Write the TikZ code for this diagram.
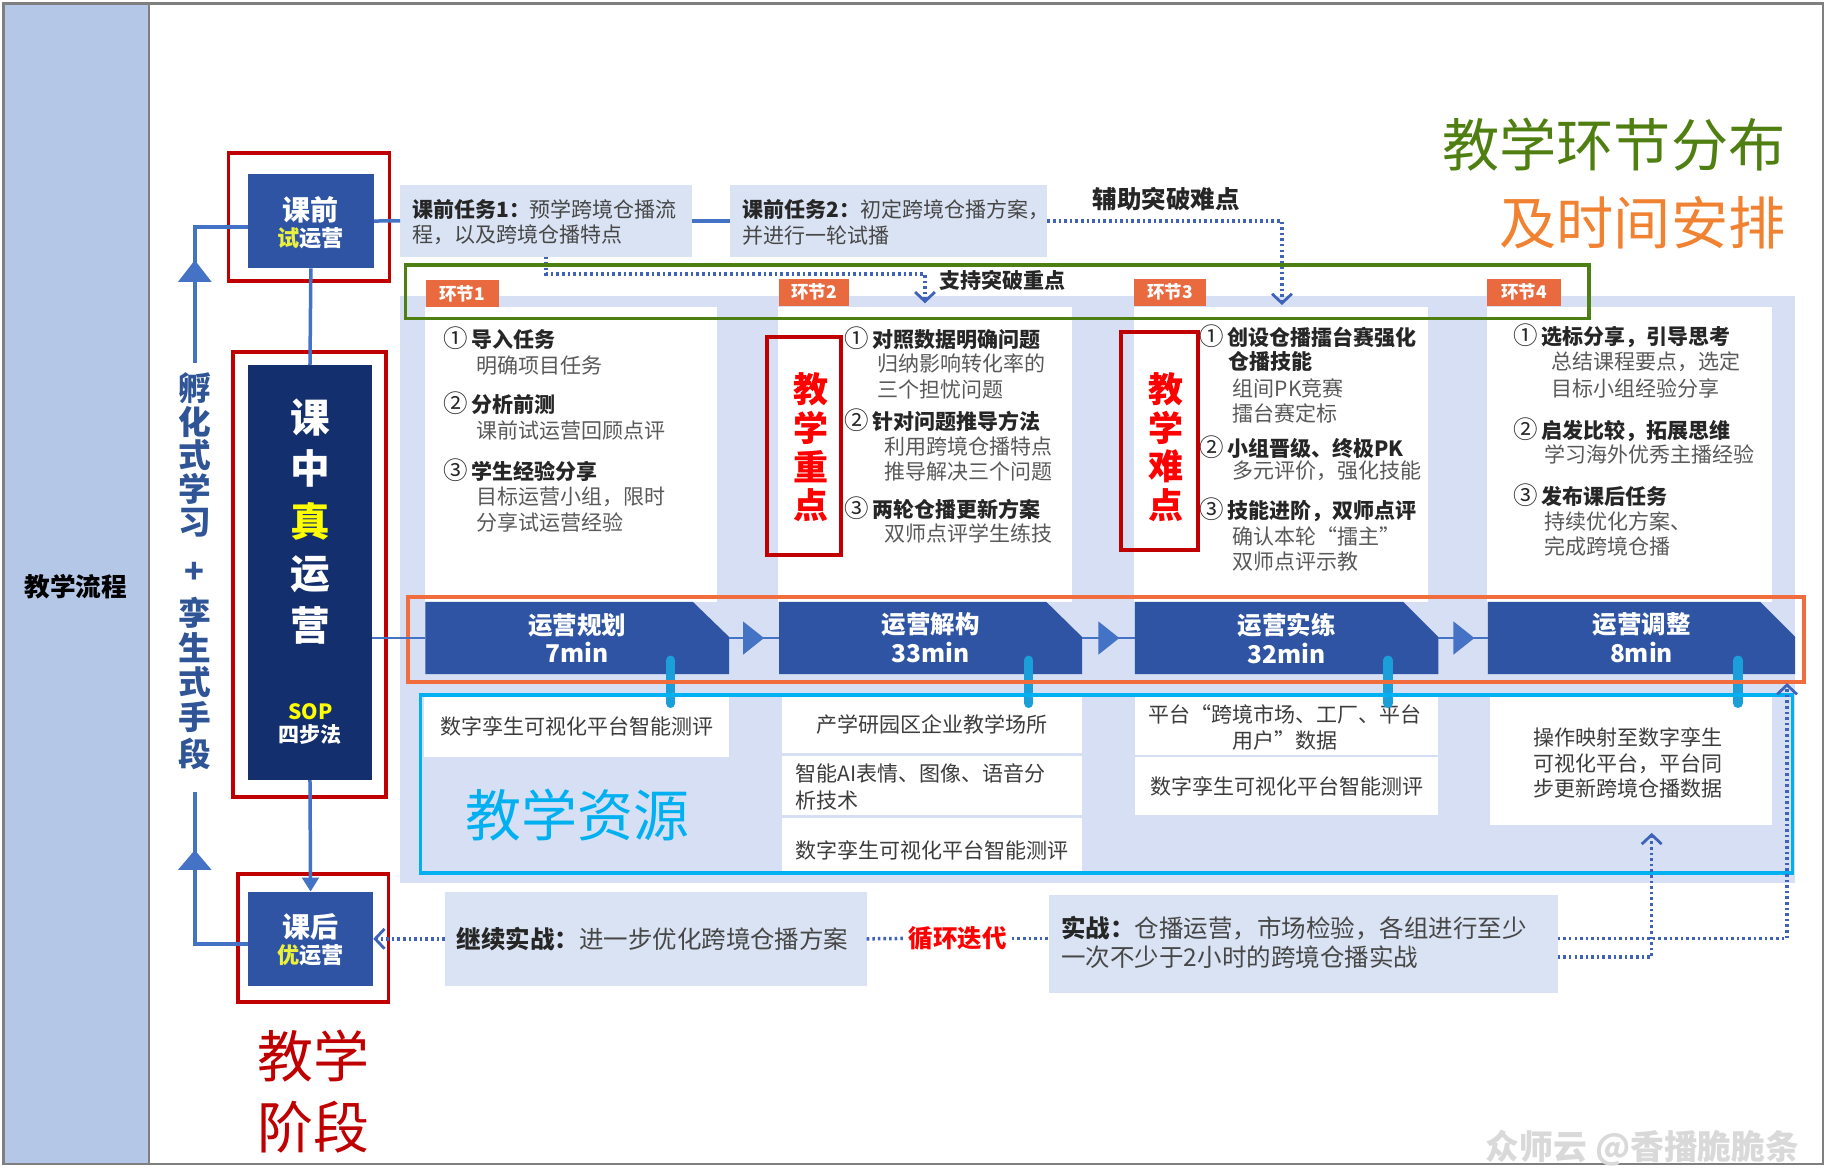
\documentclass[tikz,border=0pt]{standalone}
\usepackage{fontspec}
\setmainfont{Noto Sans CJK SC}
\usetikzlibrary{arrows.meta,calc,fit}
\definecolor{barblue}{HTML}{B4C7E7}
\definecolor{boxblue}{HTML}{2E54A3}
\definecolor{navy}{HTML}{142F6E}
\definecolor{lineblue}{HTML}{4472C4}
\definecolor{dotblue}{HTML}{3E63B8}
\definecolor{lav}{HTML}{DAE3F3}
\definecolor{panel}{HTML}{D6DFF3}
\definecolor{tagor}{HTML}{EA6A40}
\definecolor{frgreen}{HTML}{4E7F12}
\definecolor{frorange}{HTML}{F26D3D}
\definecolor{cyanc}{HTML}{00B0F0}
\definecolor{pinc}{HTML}{1A9FDB}
\definecolor{dred}{HTML}{C00000}
\definecolor{bright}{HTML}{FF0000}
\definecolor{txtgray}{HTML}{595959}
\definecolor{txtdark}{HTML}{262626}
\definecolor{ttlgreen}{HTML}{4F7F10}
\definecolor{ttlorange}{HTML}{F08232}
\definecolor{yel}{HTML}{FFFF00}
\definecolor{limey}{HTML}{EAF03C}
\definecolor{vblue}{HTML}{2F5597}
\definecolor{framegray}{HTML}{7F7F7F}
\newcommand\circnum[1]{{\mdseries\fontsize{10.5}{11}\selectfont #1}\hspace{1.5pt}}
\begin{document}
\begin{tikzpicture}[x=0.5pt,y=-0.5pt,
  rect/.style={inner sep=0pt,outer sep=0pt},
  head/.style={anchor=west,inner sep=0pt,font=\fontsize{9}{11}\selectfont\bfseries,text=txtdark},
  sub/.style={anchor=west,inner sep=0pt,font=\fontsize{9}{11}\selectfont,text=txtgray},
  restxt/.style={inner sep=0pt,font=\fontsize{9}{10.8}\selectfont,text=txtdark!90,align=center},
  tagbox/.style={rect,fill=tagor,text=white,font=\fontsize{7.5}{9}\selectfont\bfseries},
  steptxt/.style={inner sep=0pt,text=white,font=\fontsize{10.5}{12.4}\selectfont\bfseries,align=center},
  flow/.style={draw=lineblue,line width=1.2pt},
  conn/.style={draw=lineblue,line width=1.5pt},
  dotline/.style={draw=dotblue,line width=1.5pt,dash pattern=on 1.1pt off 1.3pt},
  barb/.style={-{Straight Barb[length=4pt,width=8.5pt,line width=1.2pt]}},
  pin/.style={draw=pinc,line width=4pt,line cap=round},
  redframe/.style={rect,draw=dred,line width=1.6pt},
  vchar/.style={inner sep=0pt,text=vblue,font=\fontsize{14}{16}\selectfont\bfseries},
  bigchar/.style={inner sep=0pt,text=white,font=\fontsize{17}{20}\selectfont\bfseries},
  keychar/.style={inner sep=0pt,text=bright,font=\fontsize{15}{17}\selectfont\bfseries},
  stepfill/.style={fill=boxblue},
]
\useasboundingbox (0,0) rectangle (1568,1006);

% ---------- outer frame and left bar ----------
\fill[barblue] (3,3) rectangle (128,998);
\draw[framegray,line width=1pt] (3,3) rectangle (1563,998);
\draw[framegray,line width=1pt] (128,3) -- (128,998);
\node[inner sep=0pt,font=\fontsize{11}{13}\selectfont\bfseries,text=black] (liucheng) at (65,503) {教学流程};

% ---------- background panel and columns ----------
\node[rect,fill=panel,fit={(343,254)(1539,757)}] (panel) {};
\node[rect,fill=white,fit={(364,263)(615,516)}] (col1) {};
\node[rect,fill=white,fit={(667,263)(919,516)}] (col2) {};
\node[rect,fill=white,fit={(972,263)(1224,516)}] (col3) {};
\node[rect,fill=white,fit={(1275,263)(1519,516)}] (col4) {};

\node[tagbox,fit={(364.8,240)(427.5,263)}] (tag1) {};
\node[tagbox] (tag1t) at (tag1.center) {环节1};
\node[tagbox,fit={(668,239)(728,262)}] (tag2) {};
\node[tagbox] (tag2t) at (tag2.center) {环节2};
\node[tagbox,fit={(972,239)(1034,262)}] (tag3) {};
\node[tagbox] (tag3t) at (tag3.center) {环节3};
\node[tagbox,fit={(1275,239)(1338,262)}] (tag4) {};
\node[tagbox] (tag4t) at (tag4.center) {环节4};

% ---------- pre-class tasks ----------
\node[rect,fill=lav,fit={(343,158.6)(593,220)}] (task1) {};
\node[anchor=west,inner sep=0pt,align=left,font=\fontsize{9}{11}\selectfont,text=txtdark!85] (task1t) at (353,190.5)
  {{\bfseries\color{txtdark}课前任务1：}预学跨境仓播流\\程，以及跨境仓播特点};
\node[rect,fill=lav,fit={(626,158.6)(898,220)}] (task2) {};
\node[anchor=west,inner sep=0pt,align=left,font=\fontsize{9}{11}\selectfont,text=txtdark!85] (task2t) at (636.5,190.5)
  {{\bfseries\color{txtdark}课前任务2：}初定跨境仓播方案，\\并进行一轮试播};

\coordinate (zdk) at (793,235);
\coordinate (zd) at (793,260);
\coordinate (nd) at (1099,261.5);
\draw[dotline,barb] (task1.south) |- (zdk) -- (zd);
\draw[dotline,barb] (task2.east) -| (nd);
\node[anchor=west,inner sep=0pt,font=\fontsize{9}{11}\selectfont\bfseries,text=txtdark] (zhichi) at (805,240) {支持突破重点};
\node[inner sep=0pt,font=\fontsize{10.5}{12}\selectfont\bfseries,text=txtdark] (fuzhu) at (1000,171) {辅助突破难点};

% ---------- green frame ----------
\node[rect,draw=frgreen,line width=1.6pt,fit={(347.6,227)(1362,273)}] (greenframe) {};

% ---------- column texts ----------
\foreach \s/\x/\y/\t [count=\i] in {
  head/380/290/{\circnum{①}导入任务},
  sub/408/313/{明确项目任务},
  head/380/346/{\circnum{②}分析前测},
  sub/408/369/{课前试运营回顾点评},
  head/380/403/{\circnum{③}学生经验分享},
  sub/408/426/{目标运营小组，限时},
  sub/408/447.5/{分享试运营经验}}
  \node[\s] (ca-\i) at (\x,\y) {\t};

\foreach \s/\x/\y/\t [count=\i] in {
  head/724/290/{\circnum{①}对照数据明确问题},
  sub/752/311.5/{归纳影响转化率的},
  sub/752/334/{三个担忧问题},
  head/724/360/{\circnum{②}针对问题推导方法},
  sub/758/383/{利用跨境仓播特点},
  sub/758/404/{推导解决三个问题},
  head/724/435.7/{\circnum{③}两轮仓播更新方案},
  sub/758/457/{双师点评学生练技}}
  \node[\s] (cb-\i) at (\x,\y) {\t};

\foreach \s/\x/\y/\t [count=\i] in {
  head/1028/288.6/{\circnum{①}创设仓播擂台赛强化},
  head/1052.6/310/{仓播技能},
  sub/1056.6/332.7/{组间PK竞赛},
  sub/1056.6/354.3/{擂台赛定标},
  head/1028/383/{\circnum{②}小组晋级、终极PK},
  sub/1056.6/404/{多元评价，强化技能},
  head/1028/437/{\circnum{③}技能进阶，双师点评},
  sub/1056.6/460/{确认本轮“擂主”},
  sub/1056.6/481.5/{双师点评示教}}
  \node[\s] (cc-\i) at (\x,\y) {\t};

\foreach \s/\x/\y/\t [count=\i] in {
  head/1297/288/{\circnum{①}选标分享，引导思考},
  sub/1329.6/310/{总结课程要点，选定},
  sub/1329.6/332.7/{目标小组经验分享},
  head/1297/368.6/{\circnum{②}启发比较，拓展思维},
  sub/1323.6/390/{学习海外优秀主播经验},
  head/1297/424.4/{\circnum{③}发布课后任务},
  sub/1323.6/447/{持续优化方案、},
  sub/1323.6/468.6/{完成跨境仓播}}
  \node[\s] (cd-\i) at (\x,\y) {\t};

% ---------- key / difficult points ----------
\node[redframe,fit={(657.5,289)(721,476)}] (zhongdian) {};
\foreach \c/\y [count=\i] in {教/334,学/367,重/400,点/433}
  \node[keychar] (zd-\i) at (695,\y) {\c};
\node[redframe,fit={(961,284.5)(1027,471.5)}] (nandian) {};
\foreach \c/\y [count=\i] in {教/334,学/367,难/400,点/433}
  \node[keychar] (nd-\i) at (1000,\y) {\c};

% ---------- SOP steps ----------
\fill[stepfill] (364.7,516) -- (594,516) -- (625,546) -- (625,578) -- (364.7,578) -- cycle;
\node[rect,fit={(364.7,516)(625,578)}] (s1) {};
\node[steptxt] (s1t) at (s1.center) {运营规划\\7min};
\fill[stepfill] (668,516) -- (897,516) -- (927.6,546) -- (927.6,578) -- (668,578) -- cycle;
\node[rect,fit={(668,516)(927.6,578)}] (s2) {};
\node[steptxt] (s2t) at (s2.center) {运营解构\\33min};
\fill[stepfill] (973,516) -- (1203,516) -- (1233,546) -- (1233,578) -- (973,578) -- cycle;
\node[rect,fit={(973,516)(1233,578)}] (s3) {};
\node[steptxt] (s3t) at (s3.center) {运营实练\\32min};
\fill[stepfill] (1275.6,516) -- (1509,516) -- (1539,546) -- (1539,578) -- (1275.6,578) -- cycle;
\node[rect,fit={(1275.6,516)(1539,578)}] (s4) {};
\node[steptxt] (s4t) at (s4.center) {运营调整\\8min};

\draw[flow] (s1.east) -- (s2.west);
\draw[flow,-{Triangle[length=9pt,width=14pt]}] (s1.east) -- ++(30,0);
\draw[flow] (s2.east) -- (s3.west);
\draw[flow,-{Triangle[length=9pt,width=14pt]}] (s2.east) -- ++(32,0);
\draw[flow] (s3.east) -- (s4.west);
\draw[flow,-{Triangle[length=9pt,width=14pt]}] (s3.east) -- ++(31,0);

% ---------- teaching resources ----------
\node[rect,fill=white,fit={(363.6,596)(625,649)}] (r1) {};
\node[restxt] (r1t) at (r1.center) {数字孪生可视化平台智能测评};
\node[rect,fill=white,fit={(670,597)(927.6,645.7)}] (r2a) {};
\node[restxt] (r2at) at (r2a.center) {产学研园区企业教学场所};
\node[rect,fill=white,fit={(670,648)(927.6,698.7)}] (r2b) {};
\node[restxt,anchor=west,align=left,font=\fontsize{9}{11.5}\selectfont] (r2bt) at (681.6,674.5) {智能AI表情、图像、语音分\\析技术};
\node[rect,fill=white,fit={(670,701)(927.6,750)}] (r2c) {};
\node[restxt,anchor=west] (r2ct) at (681.6,728.7) {数字孪生可视化平台智能测评};
\node[rect,fill=white,fit={(973,596)(1233,647)}] (r3a) {};
\node[restxt] (r3at) at (1102,623.7) {平台“跨境市场、工厂、平台\\用户”数据};
\node[rect,fill=white,fit={(973,649)(1233,698.7)}] (r3b) {};
\node[restxt] (r3bt) at (r3b.center) {数字孪生可视化平台智能测评};
\node[rect,fill=white,fit={(1277,596)(1519,707)}] (r4) {};
\node[restxt] (r4t) at (1395.4,654.2) {操作映射至数字孪生\\可视化平台，平台同\\步更新跨境仓播数据};

\draw[pin] (575,566) -- (575,603);
\draw[pin] (882,566) -- (882,603);
\draw[pin] (1190,566) -- (1190,603);
\draw[pin] (1490,566) -- (1490,603);

\node[rect,draw=cyanc,line width=1.6pt,fit={(360.6,596)(1536.8,748.6)}] (resframe) {};
\node[inner sep=0pt,text=cyanc,font=\fontsize{24}{28}\selectfont] (ziyuan) at (494.7,698.5) {教学资源};

% ---------- orange frame ----------
\node[rect,draw=frorange,line width=1.6pt,fit={(349.5,511.5)(1546.6,584.4)}] (orframe) {};

% ---------- teaching stages ----------
\node[rect,fill=boxblue,fit={(212.5,149)(320.5,230)}] (keqian) {};
\node[inner sep=0pt,text=white,font=\fontsize{12}{14}\selectfont\bfseries] (kq1) at (266,180) {课前};
\node[inner sep=0pt,text=white,font=\fontsize{9.5}{11}\selectfont\bfseries] (kq2) at (266,204) {\textcolor{limey}{试}运营};
\node[redframe,fit={(196,131)(334,241)}] (rfa) {};

\node[rect,fill=navy,fit={(212.5,313)(319,668.7)}] (kezhong) {};
\foreach \c/\y [count=\i] in {课/358,中/402,运/492,营/536}
  \node[bigchar] (kz-\i) at (266,\y) {\c};
\node[bigchar,text=yel] (kzz) at (266,447) {真};
\node[inner sep=0pt,text=yel,font=\fontsize{9}{11}\selectfont\bfseries] (sop) at (266,610) {SOP};
\node[inner sep=0pt,text=white,font=\fontsize{9}{11}\selectfont\bfseries] (sibu) at (266,630) {四步法};
\node[redframe,fit={(200,302)(331,683)}] (rfb) {};

\node[rect,fill=boxblue,fit={(212.5,764.4)(320,845.3)}] (kehou) {};
\node[inner sep=0pt,text=white,font=\fontsize{12}{14}\selectfont\bfseries] (kh1) at (266,794.4) {课后};
\node[inner sep=0pt,text=white,font=\fontsize{9.5}{11}\selectfont\bfseries] (kh2) at (266,818.7) {\textcolor{limey}{优}运营};
\node[redframe,fit={(204,749)(333,858.7)}] (rfc) {};

\draw[conn] (keqian.south) -- (kezhong.north);
\draw[conn,-{Triangle[length=6pt,width=7pt]}] (kezhong.south) -- (kehou.north);
\draw[conn] (keqian.east) -- (task1.west);
\draw[conn] (task1.east) -- (task2.west);
\draw[flow] (kezhong.east |- s1.west) -- (s1.west);

\coordinate (lu) at (167,311);
\coordinate (ut) at (167,223);
\coordinate (ll) at (167,678.7);
\coordinate (lt) at (167,728.7);
\draw[conn] (lu) |- ([yshift=-2.5pt]keqian.west);
\draw[conn,-{Triangle[length=9.3pt,width=14pt]}] (lu) -- (ut);
\draw[conn] ([yshift=-2.3pt]kehou.west) -| (ll);
\draw[conn,-{Triangle[length=8.5pt,width=14pt]}] ([yshift=-2.3pt]kehou.west -| ll) -- (lt);

\foreach \c/\y [count=\i] in {孵/333,化/362,式/390,学/419,习/448,+/491,孪/525,生/555,式/585,手/615,段/646}
  \node[vchar] (vl-\i) at (167,\y) {\c};

% ---------- after-class ----------
\node[rect,fill=lav,fit={(381.3,764.4)(743,845.3)}] (jixu) {};
\node[anchor=west,inner sep=0pt,font=\fontsize{10.5}{12.2}\selectfont,text=txtdark!85] (jixut) at (391,805)
  {{\bfseries\color{txtdark}继续实战：}进一步优化跨境仓播方案};
\node[inner sep=2pt,text=bright,font=\fontsize{10.5}{12}\selectfont\bfseries] (xunhuan) at (821,804.5) {循环迭代};
\node[rect,fill=lav,fit={(899,767)(1335.4,851)}] (shizhan) {};
\node[anchor=west,inner sep=0pt,align=left,font=\fontsize{10.5}{12.2}\selectfont,text=txtdark!85] (shizt) at (909.6,808)
  {{\bfseries\color{txtdark}实战：}仓播运营，市场检验，各组进行至少\\一次不少于2小时的跨境仓播实战};

\coordinate (up1) at (1532,585.6);
\coordinate (up2) at (1416,714);
\draw[dotline,barb] (jixu.west) -- (kehou.east);
\draw[dotline] (jixu.east) -- (xunhuan.west);
\draw[dotline] (xunhuan.east) -- (xunhuan.east -| shizhan.west);
\draw[dotline,barb] (xunhuan.east -| shizhan.east) -| (up1);
\draw[dotline,barb] ($(xunhuan.east -| shizhan.east)+(0,16)$) -| (up2);

% ---------- titles ----------
\node[anchor=east,inner sep=0pt,text=ttlgreen,font=\fontsize{24.5}{30}\selectfont] (title1) at (1531,124) {教学环节分布};
\node[anchor=east,inner sep=0pt,text=ttlorange,font=\fontsize{24.5}{30}\selectfont] (title2) at (1531,191) {及时间安排};
\node[inner sep=0pt,text=dred,font=\fontsize{24}{28}\selectfont] (jd1) at (269,905) {教学};
\node[inner sep=0pt,text=dred,font=\fontsize{24}{28}\selectfont] (jd2) at (269,966) {阶段};
\node[anchor=east,inner sep=0pt,text=black!15,font=\fontsize{14.5}{16}\selectfont\bfseries] (wm) at (1543,984) {众师云 @香播脆脆条};
\end{tikzpicture}
\end{document}
